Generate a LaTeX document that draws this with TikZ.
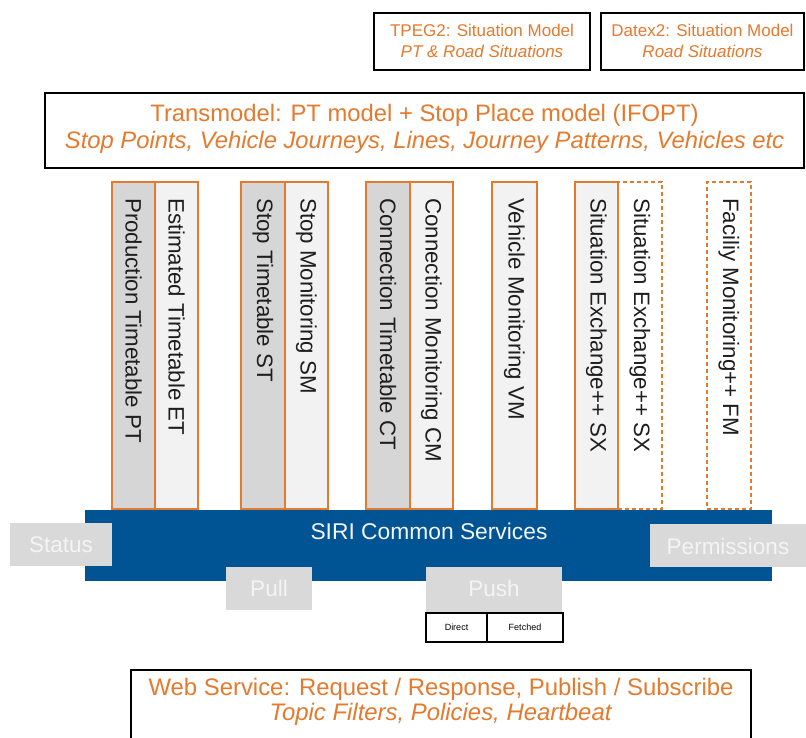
\documentclass[tikz,border=0pt]{standalone}
\usepackage{fontspec}
\setmainfont{Liberation Sans}
\definecolor{org}{RGB}{228,122,46}
\definecolor{siriblue}{RGB}{0,84,148}
\definecolor{boxgray}{RGB}{217,217,217}
\definecolor{colgray}{RGB}{214,214,214}
\definecolor{collight}{RGB}{242,242,242}
\definecolor{greytext}{RGB}{244,244,244}
\definecolor{coltext}{RGB}{30,30,30}
\begin{document}
\begin{tikzpicture}[x=1pt,y=-1pt,
  blackbox/.style={draw=black, line width=1.8pt, fill=white, inner sep=0pt, outer sep=0pt, anchor=north west},
  orgtext/.style={text=org, align=center, inner sep=0pt},
  colbox/.style={draw=org, line width=1.8pt, inner sep=0pt, outer sep=0pt, anchor=north west, minimum height=327pt},
  coldash/.style={colbox, dashed, dash pattern=on 4pt off 3pt, fill=white},
  coltxt/.style={rotate=-90, anchor=west, inner sep=0pt, text=coltext, font=\fontsize{22.3}{26}\selectfont},
  greybox/.style={fill=boxgray, draw=none, inner sep=0pt, outer sep=0pt, anchor=north west},
  greytxt/.style={text=greytext, inner sep=0pt, font=\fontsize{22.5}{26}\selectfont},
  smallbox/.style={draw=black, line width=1.6pt, fill=white, inner sep=0pt, outer sep=0pt, anchor=north west, minimum height=29pt, font=\fontsize{9}{10}\selectfont}
]
\useasboundingbox (0,0) rectangle (806,738);

% top boxes
\node[blackbox, minimum width=216pt, minimum height=57pt] (tpeg) at (374,13) {};
\node[orgtext, font=\fontsize{17}{21}\selectfont] (tpegt) at ([yshift=1pt]tpeg.center) {TPEG2: Situation Model\\ \textit{PT \& Road Situations}};
\node[blackbox, minimum width=203pt, minimum height=57pt] (datex) at (601,13) {};
\node[orgtext, font=\fontsize{17}{21}\selectfont] (datext) at ([yshift=1pt]datex.center) {Datex2: Situation Model\\ \textit{Road Situations}};

% Transmodel
\node[blackbox, minimum width=759pt, minimum height=75pt] (trans) at (45,93) {};
\node[orgtext, font=\fontsize{23.8}{27}\selectfont] (transt) at ([yshift=2pt]trans.center) {Transmodel: PT model + Stop Place model (IFOPT)\\ \textit{Stop Points, Vehicle Journeys, Lines, Journey Patterns, Vehicles etc}};

% columns
\node[colbox, fill=colgray, minimum width=43pt] (pt) at (112,182) {};
\node[colbox, fill=collight, minimum width=43pt] (et) at (155,182) {};
\node[colbox, fill=colgray, minimum width=44pt] (st) at (241,182) {};
\node[colbox, fill=collight, minimum width=43pt] (sm) at (285,182) {};
\node[colbox, fill=colgray, minimum width=44pt] (ct) at (366,182) {};
\node[colbox, fill=collight, minimum width=43pt] (cm) at (410,182) {};
\node[colbox, fill=collight, minimum width=45pt] (vm) at (492,182) {};
\node[coldash, minimum width=44pt] (sxb) at (618,182) {};
\node[colbox, fill=collight, minimum width=43pt] (sxa) at (575,182) {};
\node[coldash, minimum width=44pt] (fm) at (707,182) {};

\node[coltxt] (ptt) at ([yshift=-16pt]pt.north) {Production Timetable PT};
\node[coltxt] (ett) at ([yshift=-16pt]et.north) {Estimated Timetable ET};
\node[coltxt] (stt) at ([yshift=-16pt]st.north) {Stop Timetable ST};
\node[coltxt] (smt) at ([yshift=-16pt]sm.north) {Stop Monitoring SM};
\node[coltxt] (ctt) at ([yshift=-16pt]ct.north) {Connection Timetable CT};
\node[coltxt] (cmt) at ([yshift=-16pt]cm.north) {Connection Monitoring CM};
\node[coltxt] (vmt) at ([yshift=-16pt]vm.north) {Vehicle Monitoring VM};
\node[coltxt] (sxat) at ([yshift=-16pt]sxa.north) {Situation Exchange++ SX};
\node[coltxt] (sxbt) at ([yshift=-16pt]sxb.north) {Situation Exchange++ SX};
\node[coltxt] (fmt) at ([yshift=-16pt]fm.north) {Faciliy Monitoring++ FM};

% SIRI bar
\node[fill=siriblue, inner sep=0pt, outer sep=0pt, anchor=north west, minimum width=687pt, minimum height=71pt] (siri) at (85,510) {};
\node[text=greytext, inner sep=0pt, font=\fontsize{22.8}{26}\selectfont] (sirit) at (429,531) {SIRI Common Services};

\node[greybox, minimum width=102pt, minimum height=43pt] (status) at (10,523) {};
\node[greytxt] (statust) at (status.center) {Status};
\node[greybox, minimum width=160pt, minimum height=43pt] (perm) at (650,524) {};
\node[greytxt] at (728,546) (permt) {Permissions};
\node[greybox, minimum width=86pt, minimum height=43pt] (pull) at (226,567) {};
\node[greytxt] (pullt) at (pull.center) {Pull};
\node[greybox, minimum width=136pt, minimum height=46pt] (push) at (426,567) {};
\node[greytxt] (pusht) at (494,588) {Push};

\node[smallbox, minimum width=61pt] (direct) at (426,613) {Direct};
\node[smallbox, minimum width=76pt] (fetched) at (487,613) {Fetched};

% Web service
\node[blackbox, minimum width=620pt, minimum height=80pt] (web) at (131,670) {};
\node[orgtext, font=\fontsize{23.9}{25}\selectfont] (webt) at (441,702) {Web Service: Request / Response, Publish / Subscribe\\ \textit{Topic Filters, Policies, Heartbeat}};
\end{tikzpicture}
\end{document}
